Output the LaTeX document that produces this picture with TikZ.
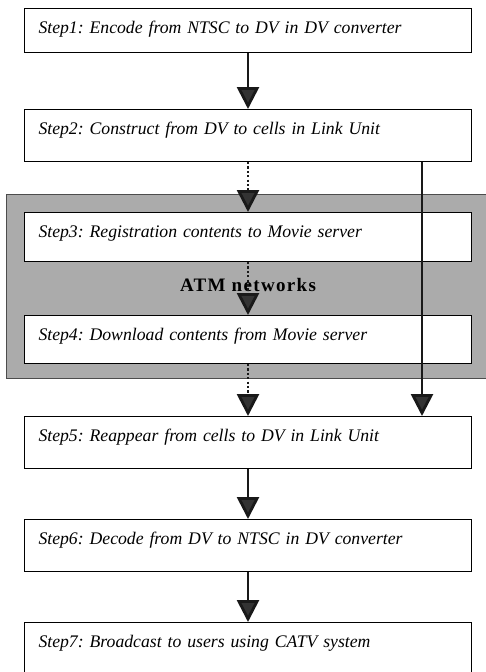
\documentclass[tikz,border=0pt]{standalone}
\usepackage{fontspec}
\setmainfont{Liberation Serif}
\usetikzlibrary{arrows.meta,positioning}
\frenchspacing
\tikzset{
  stepbox/.style={draw, line width=1pt, fill=white, anchor=north west,
    minimum width=447pt, text width=419pt, inner xsep=14pt, inner ysep=0pt,
    align=left, text height=25pt, font=\fontsize{17.7}{20}\selectfont\itshape},
  atmbox/.style={draw=black!70, line width=0.6pt, fill=black!33, anchor=north west,
    minimum width=484pt, minimum height=184pt, inner sep=0pt},
  flow/.style={line width=2.8pt, draw=black!90,
    -{Triangle[length=22pt,width=22pt,fill=black!80]}},
  dotflow/.style={flow, dash pattern=on 2.2pt off 2.2pt},
}
\begin{document}
\begin{tikzpicture}[x=1pt,y=-1pt]
\useasboundingbox (0,0) rectangle (486,672);
% ATM network region
\node[atmbox] (atm) at (6,194) {};
% steps
\node[stepbox, text depth=19pt] (s1) at (24,8)   {Step1: Encode from NTSC to DV in DV converter};
\node[stepbox, text depth=27pt] (s2) at (24,109) {Step2: Construct from DV to cells in Link Unit};
\node[stepbox, text depth=24pt] (s3) at (24,212) {Step3: Registration contents to Movie server};
\node[stepbox, text depth=23pt] (s4) at (24,315) {Step4: Download contents from Movie server};
\node[stepbox, text depth=27pt] (s5) at (24,416) {Step5: Reappear from cells to DV in Link Unit};
\node[stepbox, text depth=27pt] (s6) at (24,519) {Step6: Decode from DV to NTSC in DV converter};
\node[stepbox, text depth=35pt] (s7) at (24,622) {Step7: Broadcast to users using CATV system};
\node[font=\fontsize{19}{20}\selectfont\bfseries\addfontfeature{LetterSpace=7}] (atmlabel) at (248,285) {ATM networks};
% connectors
\coordinate (rx) at (422,0);
\draw[flow] (s1.south) -- (s2.north);
\draw[dotflow] (s2.south) -- (s3.north);
\draw[dotflow] (s3.south) -- (s4.north);
\draw[dotflow] (s4.south) -- (s5.north);
\draw[flow] (s2.south -| rx) -- (s5.north -| rx);
\draw[flow] (s5.south) -- (s6.north);
\draw[flow] (s6.south) -- (s7.north);
\end{tikzpicture}
\end{document}
